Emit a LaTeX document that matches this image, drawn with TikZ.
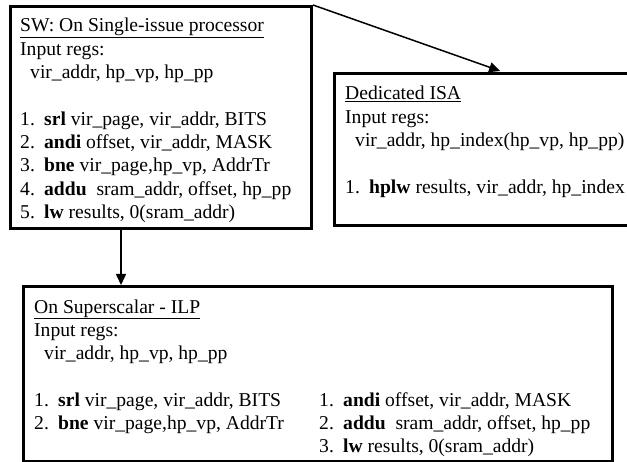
\documentclass[tikz,border=0pt]{standalone}
\usepackage{fontspec}
\setmainfont{Liberation Serif}
\usetikzlibrary{arrows.meta}
\newcommand{\numitem}[1]{\makebox[24pt][l]{#1}}
\newcommand{\regindent}{\hspace*{10pt}}

\begin{document}
\begin{tikzpicture}[x=1pt, y=-1pt, >={Triangle[length=11pt,width=10pt]},
    box/.style={draw, line width=3pt, inner sep=0pt},
    txt/.style={font=\fontsize{19.6}{23.3}\selectfont, align=left, inner sep=0pt, anchor=base west},
    flow/.style={->, line width=1.5pt}]
        % Frame
        \useasboundingbox (0,0) rectangle (627,462);
        \clip (0,0) rectangle (627,462);

        % Boxes
        \node[box, minimum width=301pt, minimum height=222pt] (sw) at (161,117.5) {};
        \node[box, minimum width=337pt, minimum height=152pt] (isa) at (503,149.5) {};
        \node[box, minimum width=589pt, minimum height=175pt] (ilp) at (318,374) {};

        % Arrows
        \draw[flow, shorten >=3pt] (sw.north east) -- (isa.north);
        \draw[flow] ([xshift=-40pt]sw.south) -- ([xshift=-40pt]sw.south |- ilp.north);

        % Texts (placed at the baseline of their last line)
        \node[txt] (swtext) at (20,218.4) {%
            \underline{SW: On Single-issue processor}\\
            Input regs:\\
            \regindent vir\_addr, hp\_vp, hp\_pp\\[23.3pt]
            \numitem{1.}\textbf{srl} vir\_page, vir\_addr, BITS\\
            \numitem{2.}\textbf{andi} offset, vir\_addr, MASK\\
            \numitem{3.}\textbf{bne} vir\_page,hp\_vp, AddrTr\\
            \numitem{4.}\textbf{addu}\ \ sram\_addr, offset, hp\_pp\\
            \numitem{5.}\textbf{lw} results, 0(sram\_addr)
        };
        \node[txt] (isatext) at (345,193.2) {%
            \underline{Dedicated ISA}\\
            Input regs:\\
            \regindent vir\_addr, hp\_index(hp\_vp, hp\_pp)\\[23.3pt]
            \numitem{1.}\textbf{hplw} results, vir\_addr, hp\_index
        };
        \node[txt] (ilptext) at (34,429.5) {%
            \underline{On Superscalar - ILP}\\
            Input regs:\\
            \regindent vir\_addr, hp\_vp, hp\_pp\\[23.3pt]
            \numitem{1.}\textbf{srl} vir\_page, vir\_addr, BITS\\
            \numitem{2.}\textbf{bne} vir\_page,hp\_vp, AddrTr
        };
        \node[txt] (ilpright) at (319,452.8) {%
            \numitem{1.}\textbf{andi} offset, vir\_addr, MASK\\
            \numitem{2.}\textbf{addu}\ \ sram\_addr, offset, hp\_pp\\
            \numitem{3.}\textbf{lw} results, 0(sram\_addr)
        };
    \end{tikzpicture}
\end{document}
